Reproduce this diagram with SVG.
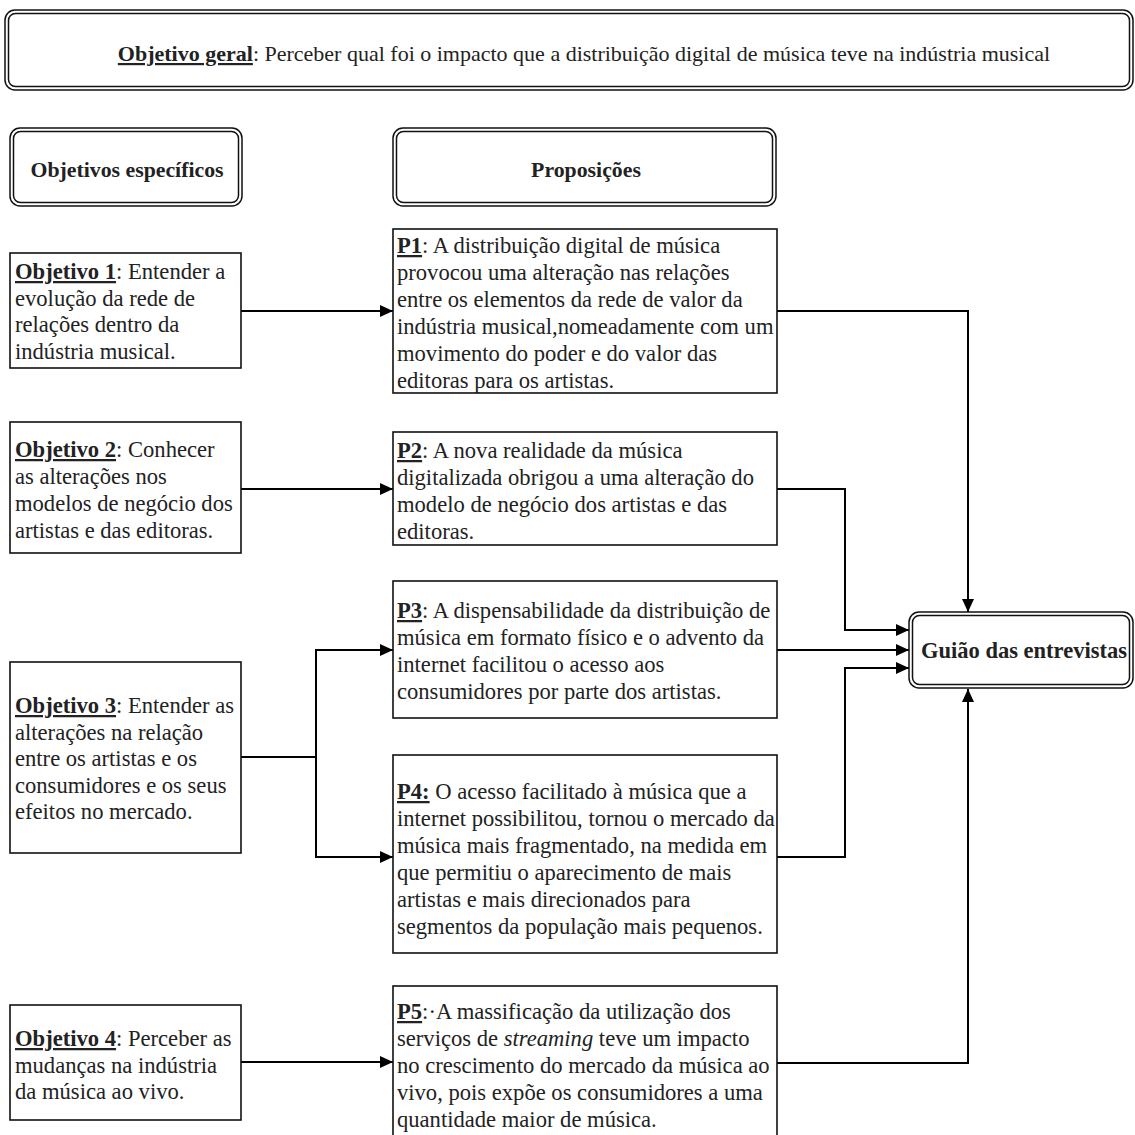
<svg xmlns="http://www.w3.org/2000/svg" width="1135" height="1135" viewBox="0 0 1135 1135">
  <defs>
    <marker id="arrow" markerUnits="userSpaceOnUse" markerWidth="14" markerHeight="12" refX="13" refY="6" orient="auto">
      <path d="M0,0 L13,6 L0,12 Z" fill="#000"/>
    </marker>
  </defs>
  <style>
    .bg { fill: #fff; }
    .box { fill: #fff; stroke: #111; stroke-width: 1.6; }
    .dbl { fill: none; stroke: #111; stroke-width: 1.5; }
    .t { font-family: "Liberation Serif", "Times New Roman", serif; font-size: 22.6px; fill: #222; }
    .h { font-family: "Liberation Serif", "Times New Roman", serif; font-size: 21.8px; font-weight: bold; fill: #222; }
    .k { font-weight: bold; text-decoration: underline; }
    .conn { fill: none; stroke: #000; stroke-width: 2; }
  </style>
  <rect class="bg" x="0" y="0" width="1135" height="1135"/>

  <!-- general objective -->
  <g id="objetivo-geral">
    <rect class="dbl" x="5" y="10" width="1128" height="80" rx="10"/>
    <rect class="dbl" x="8.5" y="13.5" width="1121" height="73" rx="7"/>
    <text class="t" x="584" y="61" text-anchor="middle" style="font-size:22px"><tspan class="k">Objetivo geral</tspan>: Perceber qual foi o impacto que a distribuição digital de música teve na indústria musical</text>
  </g>

  <!-- column headers -->
  <g id="hdr-objetivos">
    <rect class="dbl" x="10" y="128" width="232" height="78" rx="10"/>
    <rect class="dbl" x="13.5" y="131.5" width="225" height="71" rx="7"/>
    <text class="h" x="127" y="177" text-anchor="middle">Objetivos específicos</text>
  </g>
  <g id="hdr-proposicoes">
    <rect class="dbl" x="393" y="128" width="383" height="78" rx="10"/>
    <rect class="dbl" x="396.5" y="131.5" width="376" height="71" rx="7"/>
    <text class="h" x="586" y="177" text-anchor="middle">Proposições</text>
  </g>

  <!-- connectors -->
  <g id="connectors">
    <path class="conn" d="M241,311 H393" marker-end="url(#arrow)"/>
    <path class="conn" d="M241,489 H393" marker-end="url(#arrow)"/>
    <path class="conn" d="M241,757 H316 V650 H393" marker-end="url(#arrow)"/>
    <path class="conn" d="M316,757 V857 H393" marker-end="url(#arrow)"/>
    <path class="conn" d="M241,1062 H393" marker-end="url(#arrow)"/>
    <path class="conn" d="M777,311 H968 V612" marker-end="url(#arrow)"/>
    <path class="conn" d="M777,489 H845 V630 H909" marker-end="url(#arrow)"/>
    <path class="conn" d="M777,650 H909" marker-end="url(#arrow)"/>
    <path class="conn" d="M777,857 H845 V668 H909" marker-end="url(#arrow)"/>
    <path class="conn" d="M777,1063 H968 V689" marker-end="url(#arrow)"/>
  </g>

  <!-- specific objectives -->
  <g id="objetivo-1">
    <rect class="box" x="10" y="253" width="231" height="115"/>
    <text class="t">
      <tspan x="15" y="279"><tspan class="k">Objetivo 1</tspan>: Entender a</tspan>
      <tspan x="15" y="305.5">evolução da rede de</tspan>
      <tspan x="15" y="332">relações dentro da</tspan>
      <tspan x="15" y="358.5">indústria musical.</tspan>
    </text>
  </g>
  <g id="objetivo-2">
    <rect class="box" x="10" y="422" width="231" height="131"/>
    <text class="t">
      <tspan x="15" y="457"><tspan class="k">Objetivo 2</tspan>: Conhecer</tspan>
      <tspan x="15" y="484">as alterações nos</tspan>
      <tspan x="15" y="511">modelos de negócio dos</tspan>
      <tspan x="15" y="538">artistas e das editoras.</tspan>
    </text>
  </g>
  <g id="objetivo-3">
    <rect class="box" x="10" y="662" width="231" height="191"/>
    <text class="t">
      <tspan x="15" y="713"><tspan class="k">Objetivo 3</tspan>: Entender as</tspan>
      <tspan x="15" y="739.5">alterações na relação</tspan>
      <tspan x="15" y="766">entre os artistas e os</tspan>
      <tspan x="15" y="792.5">consumidores e os seus</tspan>
      <tspan x="15" y="819">efeitos no mercado.</tspan>
    </text>
  </g>
  <g id="objetivo-4">
    <rect class="box" x="10" y="1005" width="231" height="115"/>
    <text class="t">
      <tspan x="15" y="1046"><tspan class="k">Objetivo 4</tspan>: Perceber as</tspan>
      <tspan x="15" y="1072.5">mudanças na indústria</tspan>
      <tspan x="15" y="1099">da música ao vivo.</tspan>
    </text>
  </g>

  <!-- propositions -->
  <g id="p1">
    <rect class="box" x="393" y="229" width="384" height="164"/>
    <text class="t">
      <tspan x="397" y="253"><tspan class="k">P1</tspan>: A distribuição digital de música</tspan>
      <tspan x="397" y="280">provocou uma alteração nas relações</tspan>
      <tspan x="397" y="307">entre os elementos da rede de valor da</tspan>
      <tspan x="397" y="334">indústria musical,nomeadamente com um</tspan>
      <tspan x="397" y="361">movimento do poder e do valor das</tspan>
      <tspan x="397" y="388">editoras para os artistas.</tspan>
    </text>
  </g>
  <g id="p2">
    <rect class="box" x="393" y="432" width="384" height="113"/>
    <text class="t">
      <tspan x="397" y="458"><tspan class="k">P2</tspan>: A nova realidade da música</tspan>
      <tspan x="397" y="485">digitalizada obrigou a uma alteração do</tspan>
      <tspan x="397" y="512">modelo de negócio dos artistas e das</tspan>
      <tspan x="397" y="539">editoras.</tspan>
    </text>
  </g>
  <g id="p3">
    <rect class="box" x="393" y="581" width="384" height="137"/>
    <text class="t">
      <tspan x="397" y="618"><tspan class="k">P3</tspan>: A dispensabilidade da distribuição de</tspan>
      <tspan x="397" y="645">música em formato físico e o advento da</tspan>
      <tspan x="397" y="672">internet facilitou o acesso aos</tspan>
      <tspan x="397" y="699">consumidores por parte dos artistas.</tspan>
    </text>
  </g>
  <g id="p4">
    <rect class="box" x="393" y="755" width="384" height="198"/>
    <text class="t">
      <tspan x="397" y="799"><tspan class="k">P4:</tspan> O acesso facilitado à música que a</tspan>
      <tspan x="397" y="826">internet possibilitou, tornou o mercado da</tspan>
      <tspan x="397" y="853">música mais fragmentado, na medida em</tspan>
      <tspan x="397" y="880">que permitiu o aparecimento de mais</tspan>
      <tspan x="397" y="907">artistas e mais direcionados para</tspan>
      <tspan x="397" y="934">segmentos da população mais pequenos.</tspan>
    </text>
  </g>
  <g id="p5">
    <rect class="box" x="393" y="986" width="384" height="160"/>
    <text class="t">
      <tspan x="397" y="1019"><tspan class="k">P5</tspan>:·A massificação da utilização dos</tspan>
      <tspan x="397" y="1046">serviços de <tspan font-style="italic">streaming</tspan> teve um impacto</tspan>
      <tspan x="397" y="1073">no crescimento do mercado da música ao</tspan>
      <tspan x="397" y="1100">vivo, pois expõe os consumidores a uma</tspan>
      <tspan x="397" y="1127">quantidade maior de música.</tspan>
    </text>
  </g>

  <!-- interview guide -->
  <g id="guiao">
    <rect class="dbl" x="909" y="612" width="224" height="76" rx="10"/>
    <rect class="dbl" x="912.5" y="615.5" width="217" height="69" rx="7"/>
    <text class="h" x="1024" y="658" text-anchor="middle" style="font-size:22.5px">Guião das entrevistas</text>
  </g>
</svg>
